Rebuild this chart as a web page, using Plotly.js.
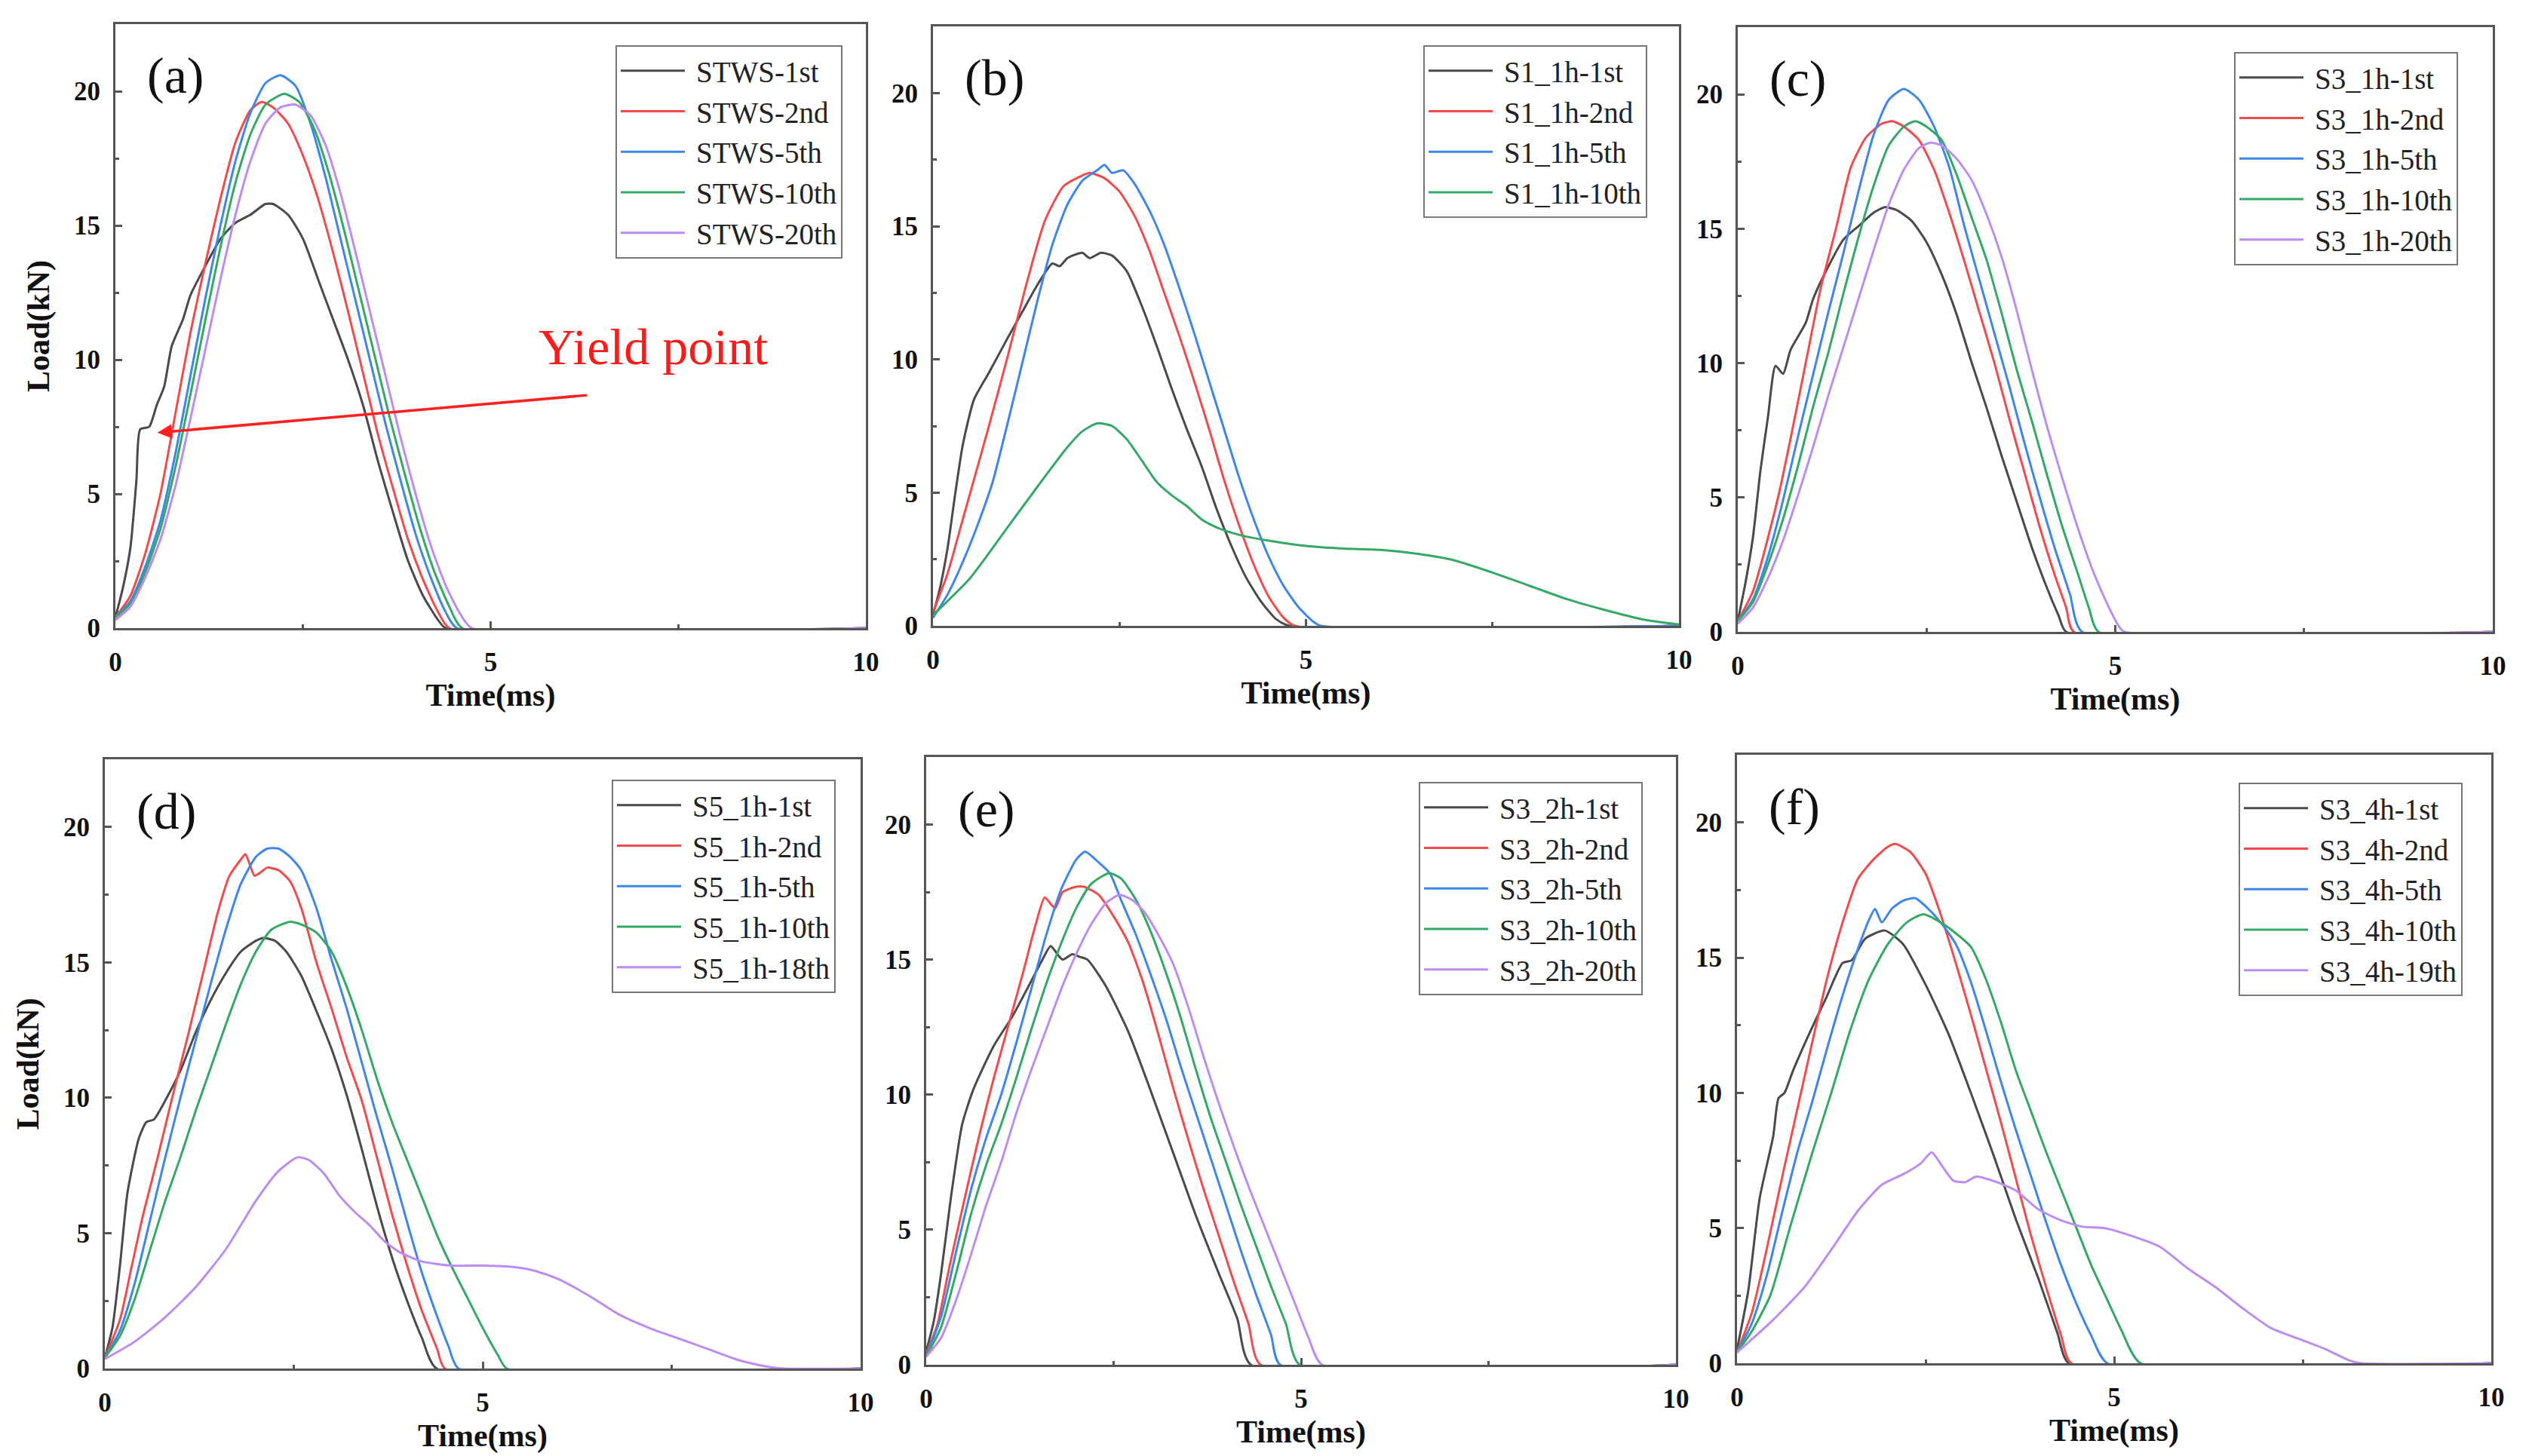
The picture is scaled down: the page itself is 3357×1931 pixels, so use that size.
<!DOCTYPE html>
<html>
<head>
<meta charset="utf-8">
<script src="https://cdn.plot.ly/plotly-3.0.1.min.js"></script>
<style>
  html, body { margin: 0; padding: 0; background: #fff; }
  #chart { width: 3357px; height: 1931px; }
</style>
</head>
<body>
<div id="chart"></div>
<script>
// load-time curves, [time ms, load kN]
const a1st = [[0,0.4],[0.1,1.5],[0.2,3.0],[0.28,5.5],[0.33,7.4],[0.45,7.5],[0.55,8.3],[0.65,9.0],[0.75,10.5],[0.9,11.5],[1.0,12.4],[1.2,13.5],[1.4,14.5],[1.6,15.1],[1.8,15.4],[2.0,15.8],[2.1,15.8],[2.3,15.4],[2.5,14.5],[2.7,13.0],[2.9,11.5],[3.1,10.0],[3.3,8.3],[3.5,6.2],[3.7,4.3],[3.9,2.5],[4.1,1.2],[4.3,0.3],[4.4,0],[10,0]];
const a2nd = [[0,0.4],[0.2,1.2],[0.4,2.8],[0.6,5.0],[0.8,8.0],[1.0,11.0],[1.2,13.6],[1.4,16.0],[1.6,18.1],[1.8,19.3],[1.95,19.6],[2.1,19.4],[2.3,18.8],[2.5,17.6],[2.7,16.0],[2.9,14.0],[3.1,11.8],[3.3,9.5],[3.5,7.2],[3.7,5.2],[3.9,3.3],[4.1,1.8],[4.3,0.6],[4.45,0],[10,0]];
const a5th = [[0,0.4],[0.2,1.0],[0.4,2.3],[0.6,4.0],[0.8,6.5],[1.0,9.4],[1.2,12.3],[1.4,15.0],[1.6,17.4],[1.8,19.2],[2.0,20.3],[2.2,20.6],[2.4,20.2],[2.6,18.8],[2.8,16.8],[3.0,14.5],[3.2,12.2],[3.4,9.9],[3.6,7.6],[3.8,5.5],[4.0,3.5],[4.2,1.9],[4.4,0.6],[4.55,0],[10,0]];
const a10th = [[0,0.4],[0.2,0.9],[0.4,2.1],[0.6,3.7],[0.8,6.0],[1.0,8.7],[1.2,11.5],[1.4,14.2],[1.6,16.6],[1.8,18.4],[2.0,19.5],[2.25,19.9],[2.45,19.6],[2.65,18.6],[2.85,16.9],[3.05,14.8],[3.25,12.5],[3.45,10.2],[3.65,7.9],[3.85,5.8],[4.05,3.8],[4.25,2.1],[4.45,0.8],[4.62,0],[10,0]];
const a20th = [[0,0.3],[0.2,0.8],[0.4,1.9],[0.6,3.3],[0.8,5.3],[1.0,7.8],[1.2,10.4],[1.4,13.0],[1.6,15.4],[1.8,17.4],[2.0,18.8],[2.2,19.4],[2.4,19.5],[2.6,19.1],[2.8,18.0],[3.0,16.2],[3.2,14.0],[3.4,11.7],[3.6,9.4],[3.8,7.1],[4.0,5.0],[4.2,3.1],[4.4,1.6],[4.6,0.5],[4.75,0],[10,0]];

const b1st = [[0,0.4],[0.1,1.5],[0.2,3.0],[0.3,5.0],[0.4,6.8],[0.55,8.5],[0.75,9.5],[1.0,10.8],[1.2,11.8],[1.4,12.8],[1.6,13.6],[1.7,13.5],[1.8,13.8],[2.0,14.0],[2.1,13.8],[2.25,14.0],[2.4,13.9],[2.6,13.3],[2.8,12.0],[3.0,10.5],[3.2,8.9],[3.4,7.4],[3.6,6.0],[3.8,4.4],[4.0,3.0],[4.2,1.8],[4.4,0.9],[4.6,0.25],[4.78,0],[10,0]];
const b2nd = [[0,0.5],[0.2,2.0],[0.35,3.5],[0.5,5.0],[0.75,7.5],[1.0,10.1],[1.25,12.8],[1.5,15.2],[1.75,16.5],[2.0,16.9],[2.1,17.0],[2.3,16.8],[2.5,16.3],[2.7,15.4],[2.9,14.1],[3.1,12.5],[3.3,10.9],[3.5,9.2],[3.7,7.4],[3.9,5.5],[4.1,3.8],[4.3,2.3],[4.5,1.1],[4.7,0.3],[4.85,0],[10,0]];
const b5th = [[0,0.3],[0.2,1.2],[0.4,2.4],[0.6,3.8],[0.8,5.4],[1.0,7.6],[1.2,9.9],[1.4,12.2],[1.6,14.3],[1.8,15.8],[2.0,16.7],[2.2,17.1],[2.3,17.3],[2.4,17.0],[2.55,17.1],[2.7,16.6],[2.9,15.6],[3.1,14.3],[3.3,12.7],[3.5,11.0],[3.7,9.2],[3.9,7.4],[4.1,5.6],[4.3,4.0],[4.5,2.6],[4.7,1.5],[4.9,0.7],[5.1,0.15],[5.2,0],[10,0]];
const b10th = [[0,0.4],[0.5,1.8],[1.0,3.7],[1.5,5.6],[1.8,6.7],[2.0,7.3],[2.2,7.6],[2.4,7.5],[2.6,7.0],[2.8,6.2],[3.0,5.4],[3.2,4.9],[3.4,4.5],[3.6,4.0],[3.8,3.7],[4.0,3.5],[4.2,3.35],[4.5,3.2],[5.0,3.0],[5.5,2.9],[6.0,2.85],[6.5,2.7],[7.0,2.45],[7.5,2.0],[8.0,1.5],[8.5,1.0],[9.0,0.6],[9.5,0.25],[10,0.05]];

const c1st = [[0,0.4],[0.1,1.8],[0.2,3.5],[0.3,6.0],[0.4,8.0],[0.5,9.9],[0.6,9.6],[0.7,10.5],[0.9,11.5],[1.0,12.4],[1.2,13.6],[1.4,14.6],[1.6,15.1],[1.8,15.6],[1.95,15.8],[2.1,15.7],[2.3,15.3],[2.5,14.5],[2.7,13.3],[2.9,11.8],[3.1,10.0],[3.3,8.3],[3.5,6.5],[3.7,4.8],[3.9,3.1],[4.1,1.6],[4.25,0.6],[4.35,0],[10,0]];
const c2nd = [[0,0.4],[0.2,1.5],[0.4,3.5],[0.55,5.2],[0.7,7.2],[0.9,10.0],[1.1,12.8],[1.3,15.0],[1.5,17.3],[1.7,18.4],[1.9,18.9],[2.05,19.0],[2.2,18.8],[2.4,18.3],[2.6,17.2],[2.8,15.6],[3.0,13.8],[3.2,11.9],[3.4,10.0],[3.6,7.9],[3.8,5.9],[4.0,3.9],[4.2,2.1],[4.35,0.9],[4.45,0],[10,0]];
const c5th = [[0,0.4],[0.2,1.2],[0.4,2.8],[0.6,4.9],[0.8,7.3],[1.0,9.6],[1.2,11.9],[1.4,14.1],[1.6,16.4],[1.8,18.5],[2.0,19.8],[2.2,20.2],[2.4,19.8],[2.6,18.8],[2.8,17.3],[3.0,15.1],[3.2,13.1],[3.4,11.1],[3.6,9.1],[3.8,7.0],[4.0,5.0],[4.2,3.1],[4.4,1.4],[4.56,0],[10,0]];
const c10th = [[0,0.4],[0.2,1.1],[0.4,2.5],[0.6,4.2],[0.8,6.2],[1.0,8.4],[1.2,10.4],[1.4,12.6],[1.6,14.7],[1.8,16.6],[2.0,18.1],[2.2,18.8],[2.35,19.0],[2.5,18.8],[2.7,18.3],[2.9,17.0],[3.1,15.4],[3.3,13.8],[3.5,11.8],[3.7,9.7],[3.9,7.8],[4.1,5.8],[4.3,3.9],[4.5,2.2],[4.65,0.9],[4.78,0],[10,0]];
const c20th = [[0,0.3],[0.2,0.9],[0.4,2.0],[0.6,3.4],[0.8,5.1],[1.0,6.9],[1.2,8.8],[1.4,10.6],[1.6,12.4],[1.8,14.2],[2.0,15.9],[2.2,17.2],[2.4,18.0],[2.55,18.2],[2.7,18.1],[2.9,17.6],[3.1,16.8],[3.3,15.5],[3.5,13.9],[3.7,11.9],[3.9,9.7],[4.1,7.6],[4.3,5.7],[4.5,3.9],[4.7,2.3],[4.9,1.0],[5.05,0.2],[5.12,0],[10,0]];

const d1st = [[0,0.4],[0.1,1.5],[0.2,3.8],[0.3,6.5],[0.45,8.5],[0.55,9.1],[0.65,9.2],[0.8,9.9],[1.0,11.0],[1.2,12.4],[1.4,13.6],[1.6,14.6],[1.8,15.4],[2.0,15.8],[2.1,15.9],[2.25,15.8],[2.4,15.4],[2.6,14.5],[2.8,13.2],[3.0,11.8],[3.2,10.1],[3.4,8.1],[3.6,6.0],[3.8,4.1],[4.0,2.5],[4.2,1.1],[4.39,0],[10,0]];
const d2nd = [[0,0.4],[0.2,1.8],[0.35,3.7],[0.5,5.6],[0.7,7.8],[0.9,10.1],[1.1,12.3],[1.3,14.6],[1.5,16.9],[1.65,18.2],[1.8,18.8],[1.86,19.0],[1.92,18.6],[1.98,18.2],[2.05,18.3],[2.15,18.5],[2.3,18.4],[2.45,18.0],[2.6,17.0],[2.8,15.0],[3.0,13.3],[3.2,11.5],[3.4,9.9],[3.6,7.8],[3.8,5.7],[4.0,3.8],[4.2,2.1],[4.4,0.7],[4.5,0],[10,0]];
const d5th = [[0,0.4],[0.2,1.4],[0.4,3.2],[0.6,5.5],[0.8,7.8],[1.0,10.0],[1.2,12.1],[1.4,14.2],[1.6,16.2],[1.8,17.9],[2.0,18.9],[2.15,19.2],[2.3,19.2],[2.45,18.9],[2.6,18.4],[2.8,17.0],[3.0,15.1],[3.2,13.3],[3.4,11.3],[3.6,9.3],[3.8,7.4],[4.0,5.4],[4.2,3.5],[4.4,1.9],[4.55,0.8],[4.68,0],[10,0]];
const d10th = [[0,0.4],[0.2,1.2],[0.4,2.6],[0.6,4.4],[0.8,6.2],[1.0,7.8],[1.2,9.5],[1.4,11.1],[1.6,12.7],[1.8,14.2],[2.0,15.4],[2.2,16.2],[2.45,16.5],[2.6,16.4],[2.8,16.1],[3.0,15.4],[3.2,14.1],[3.4,12.5],[3.6,10.7],[3.8,9.1],[4.0,7.7],[4.2,6.3],[4.4,4.9],[4.6,3.7],[4.8,2.6],[5.0,1.5],[5.2,0.5],[5.32,0],[10,0]];
const d18th = [[0,0.35],[0.4,1.0],[0.8,1.9],[1.2,3.0],[1.6,4.4],[2.0,6.2],[2.3,7.3],[2.55,7.8],[2.7,7.7],[2.9,7.2],[3.1,6.4],[3.3,5.8],[3.5,5.3],[3.7,4.7],[3.9,4.3],[4.2,3.95],[4.6,3.8],[5.0,3.8],[5.4,3.75],[5.7,3.6],[6.0,3.3],[6.4,2.7],[6.8,2.0],[7.2,1.5],[7.6,1.1],[8.0,0.7],[8.4,0.3],[8.8,0.05],[9.0,0],[10,0]];

const e1st = [[0,0.5],[0.1,1.6],[0.2,3.4],[0.33,6.2],[0.48,8.9],[0.63,10.2],[0.9,11.8],[1.15,12.9],[1.4,14.2],[1.55,15.0],[1.66,15.5],[1.75,15.2],[1.82,15.0],[1.95,15.2],[2.05,15.1],[2.15,15.0],[2.4,14.0],[2.7,12.3],[3.0,10.1],[3.3,7.8],[3.6,5.5],[3.9,3.4],[4.15,1.7],[4.33,0],[10,0]];
const e2nd = [[0,0.4],[0.15,1.5],[0.3,3.5],[0.5,6.0],[0.7,8.4],[0.9,10.6],[1.1,12.6],[1.3,14.6],[1.45,16.2],[1.58,17.3],[1.65,17.1],[1.72,16.9],[1.82,17.5],[2.0,17.7],[2.1,17.7],[2.3,17.4],[2.5,16.6],[2.7,15.6],[2.9,14.1],[3.1,12.2],[3.3,10.2],[3.5,8.3],[3.7,6.5],[3.9,4.8],[4.1,3.1],[4.3,1.5],[4.46,0],[10,0]];
const e5th = [[0,0.3],[0.2,1.8],[0.4,4.2],[0.6,6.5],[0.8,8.4],[1.0,10.0],[1.2,11.9],[1.4,13.9],[1.6,15.9],[1.8,17.6],[2.0,18.7],[2.12,19.0],[2.3,18.6],[2.45,18.2],[2.6,17.2],[2.8,15.9],[3.0,14.4],[3.2,12.8],[3.4,11.0],[3.6,9.3],[3.8,7.6],[4.0,5.9],[4.2,4.2],[4.4,2.6],[4.6,1.1],[4.72,0],[10,0]];
const e10th = [[0,0.3],[0.2,1.4],[0.4,3.4],[0.6,5.6],[0.8,7.4],[1.0,8.9],[1.2,10.6],[1.4,12.4],[1.6,14.1],[1.8,15.6],[2.0,16.9],[2.2,17.8],[2.44,18.2],[2.6,18.0],[2.8,17.2],[3.0,16.0],[3.2,14.5],[3.4,12.8],[3.6,10.9],[3.8,9.1],[4.0,7.5],[4.2,5.9],[4.4,4.4],[4.6,2.9],[4.8,1.5],[4.98,0],[10,0]];
const e20th = [[0,0.3],[0.2,1.0],[0.4,2.4],[0.6,4.1],[0.8,5.9],[1.0,7.5],[1.2,9.3],[1.4,10.9],[1.6,12.4],[1.8,13.9],[2.0,15.2],[2.2,16.3],[2.4,17.1],[2.58,17.4],[2.75,17.2],[2.9,16.8],[3.1,15.9],[3.3,14.8],[3.5,13.2],[3.7,11.4],[3.9,9.7],[4.1,8.1],[4.3,6.6],[4.5,5.2],[4.7,3.8],[4.9,2.4],[5.1,1.0],[5.28,0],[10,0]];

const f1st = [[0,0.5],[0.15,2.7],[0.3,6.1],[0.48,8.4],[0.55,9.8],[0.63,10.0],[0.74,10.8],[0.96,12.2],[1.18,13.5],[1.4,14.8],[1.52,14.9],[1.7,15.7],[1.96,16.0],[2.2,15.5],[2.5,14.0],[2.8,12.2],[3.1,10.0],[3.4,7.7],[3.7,5.3],[4.0,3.1],[4.25,1.1],[4.4,0],[10,0]];
const f2nd = [[0,0.4],[0.2,1.9],[0.4,4.3],[0.6,6.9],[0.8,9.4],[1.0,11.9],[1.2,14.3],[1.4,16.3],[1.6,17.9],[1.8,18.6],[2.0,19.1],[2.1,19.2],[2.3,18.9],[2.5,18.1],[2.7,16.6],[2.9,14.8],[3.1,12.9],[3.3,10.9],[3.5,8.9],[3.7,6.8],[3.9,4.7],[4.1,2.8],[4.3,1.0],[4.43,0],[10,0]];
const f5th = [[0,0.4],[0.2,1.5],[0.4,3.3],[0.6,5.6],[0.8,7.8],[1.0,9.7],[1.2,11.7],[1.4,13.6],[1.6,15.3],[1.75,16.4],[1.83,16.8],[1.92,16.3],[2.05,16.8],[2.2,17.1],[2.36,17.2],[2.5,16.9],[2.7,16.3],[2.9,15.5],[3.1,14.1],[3.3,12.3],[3.5,10.4],[3.7,8.6],[3.9,6.9],[4.1,5.2],[4.3,3.6],[4.5,2.2],[4.7,1.0],[4.91,0],[10,0]];
const f10th = [[0,0.4],[0.2,1.2],[0.44,2.5],[0.7,5.0],[1.0,7.8],[1.25,10.0],[1.5,12.3],[1.75,14.2],[2.0,15.5],[2.25,16.3],[2.47,16.6],[2.7,16.3],[2.9,15.9],[3.1,15.4],[3.3,14.2],[3.5,12.6],[3.7,10.8],[3.9,9.3],[4.1,7.8],[4.3,6.4],[4.5,5.0],[4.7,3.6],[4.9,2.4],[5.1,1.2],[5.35,0],[10,0]];
const f19th = [[0,0.4],[0.44,1.5],[0.89,2.8],[1.25,4.2],[1.62,5.7],[1.92,6.6],[2.21,7.0],[2.44,7.4],[2.58,7.8],[2.73,7.25],[2.87,6.75],[3.03,6.7],[3.17,6.9],[3.39,6.75],[3.69,6.4],[3.99,5.7],[4.28,5.3],[4.58,5.05],[4.87,5.0],[5.24,4.7],[5.61,4.3],[5.98,3.5],[6.35,2.8],[6.72,2.0],[7.08,1.3],[7.45,0.9],[7.82,0.5],[8.12,0.1],[8.27,0],[10,0]];

const namesA = ['STWS-1st', 'STWS-2nd', 'STWS-5th', 'STWS-10th', 'STWS-20th'];
const namesB = ['S1_1h-1st', 'S1_1h-2nd', 'S1_1h-5th', 'S1_1h-10th'];
const namesC = ['S3_1h-1st', 'S3_1h-2nd', 'S3_1h-5th', 'S3_1h-10th', 'S3_1h-20th'];
const namesD = ['S5_1h-1st', 'S5_1h-2nd', 'S5_1h-5th', 'S5_1h-10th', 'S5_1h-18th'];
const namesE = ['S3_2h-1st', 'S3_2h-2nd', 'S3_2h-5th', 'S3_2h-10th', 'S3_2h-20th'];
const namesF = ['S3_4h-1st', 'S3_4h-2nd', 'S3_4h-5th', 'S3_4h-10th', 'S3_4h-19th'];

const W = 3357, H = 1931;
const SERIF = '"Liberation Serif", "Times New Roman", serif';
const COLOURS = ['#4a4a4a', '#f24b4b', '#3f86ea', '#34a865', '#bd8cf2'];
const AXIS_GREY = '#555';

// frame boxes in px [left, top, right, bottom], legend anchor [right, top]
const panels = [
    { tag: '(a)', names: namesA, series: [a1st, a2nd, a5th, a10th, a20th], box: [153, 32, 1148, 833], leg: [1117, 60], yTitle: true },
    { tag: '(b)', names: namesB, series: [b1st, b2nd, b5th, b10th], box: [1237, 35, 2226, 830], leg: [2184, 60] },
    { tag: '(c)', names: namesC, series: [c1st, c2nd, c5th, c10th, c20th], box: [2304, 36, 3305, 838], leg: [3259, 69] },
    { tag: '(d)', names: namesD, series: [d1st, d2nd, d5th, d10th, d18th], box: [139, 1007, 1141, 1815], leg: [1108, 1034], yTitle: true },
    { tag: '(e)', names: namesE, series: [e1st, e2nd, e5th, e10th, e20th], box: [1228, 1004, 2222, 1810], leg: [2178, 1037] },
    { tag: '(f)', names: namesF, series: [f1st, f2nd, f5th, f10th, f19th], box: [2303, 1001, 3303, 1808], leg: [3265, 1038] },
];

const tickFont = { family: SERIF, size: 35, weight: 'bold', color: '#111' };
const titleFont = { family: SERIF, size: 42, weight: 'bold', color: '#111' };

function axisBase() {
    return {
        ticks: 'inside', ticklen: 9, tickwidth: 3, tickcolor: AXIS_GREY,
        minor: { ticks: 'inside', ticklen: 5, tickwidth: 3, tickcolor: AXIS_GREY },
        showline: true, linecolor: AXIS_GREY, linewidth: 3, mirror: true,
        showgrid: false, zeroline: false, tickfont: tickFont, fixedrange: true,
    };
}

const traces = [];
const layout = {
    width: W, height: H,
    margin: { l: 0, r: 0, t: 0, b: 0 },
    paper_bgcolor: '#fff', plot_bgcolor: '#fff',
    font: { family: SERIF, color: '#111' },
    annotations: [],
};

panels.forEach((p, i) => {
    const n = i + 1, sfx = n === 1 ? '' : String(n);
    const [l, t, r, b] = p.box;
    const legId = 'legend' + sfx;

    p.series.forEach((pts, k) => {
        traces.push({
            x: pts.map(d => d[0]), y: pts.map(d => d[1]),
            type: 'scatter', mode: 'lines', name: p.names[k],
            xaxis: 'x' + sfx, yaxis: 'y' + sfx, legend: legId,
            line: { color: COLOURS[k], width: 3, shape: 'spline', smoothing: 0.6 },
            hoverinfo: 'skip',
        });
    });

    layout['xaxis' + sfx] = Object.assign(axisBase(), {
        domain: [l / W, r / W], anchor: 'y' + sfx,
        range: [0, 10], tick0: 0, dtick: 5, ticklabelstandoff: 12,
        minor: Object.assign(axisBase().minor, { dtick: 2.5 }),
        title: { text: 'Time(ms)', font: titleFont, standoff: 10 },
    });
    layout['yaxis' + sfx] = Object.assign(axisBase(), {
        domain: [1 - b / H, 1 - t / H], anchor: 'x' + sfx,
        range: [0, 22.5], tick0: 0, dtick: 5, ticklabelstandoff: 10,
        minor: Object.assign(axisBase().minor, { dtick: 2.5 }),
        title: p.yTitle ? { text: 'Load(kN)', font: titleFont, standoff: 20 } : { text: '' },
    });

    layout[legId] = {
        x: p.leg[0] / W, y: 1 - p.leg[1] / H, xanchor: 'right', yanchor: 'top',
        bgcolor: '#fff', bordercolor: '#777', borderwidth: 2,
        font: { family: SERIF, size: 39, color: '#222' },
        itemwidth: 95, tracegroupgap: 0,
    };

    layout.annotations.push({
        xref: 'x' + sfx + ' domain', yref: 'y' + sfx + ' domain',
        x: 0.04, y: 0.915, xanchor: 'left', yanchor: 'middle',
        text: p.tag, showarrow: false,
        font: { family: SERIF, size: 68, color: '#111' },
    });
});

// yield point call-out on panel (a)
layout.annotations.push({
    xref: 'x', yref: 'y', x: 7.17, y: 10.48, text: 'Yield point', showarrow: false,
    font: { family: SERIF, size: 68, color: '#ff1a1a' },
});
layout.annotations.push({
    xref: 'x', yref: 'y', axref: 'x', ayref: 'y',
    x: 0.56, y: 7.28, ax: 6.30, ay: 8.68, text: '',
    showarrow: true, arrowhead: 2, arrowsize: 1.1, arrowwidth: 3.5, arrowcolor: '#ff2020',
});

Plotly.newPlot('chart', traces, layout, { staticPlot: true, displayModeBar: false }).then(gd => {
    // Origin-style long legend samples (plotly fixes them at 30px)
    gd.querySelectorAll('.legendlines path').forEach(el => el.setAttribute('d', 'M5,0h85'));
});
</script>
</body>
</html>
